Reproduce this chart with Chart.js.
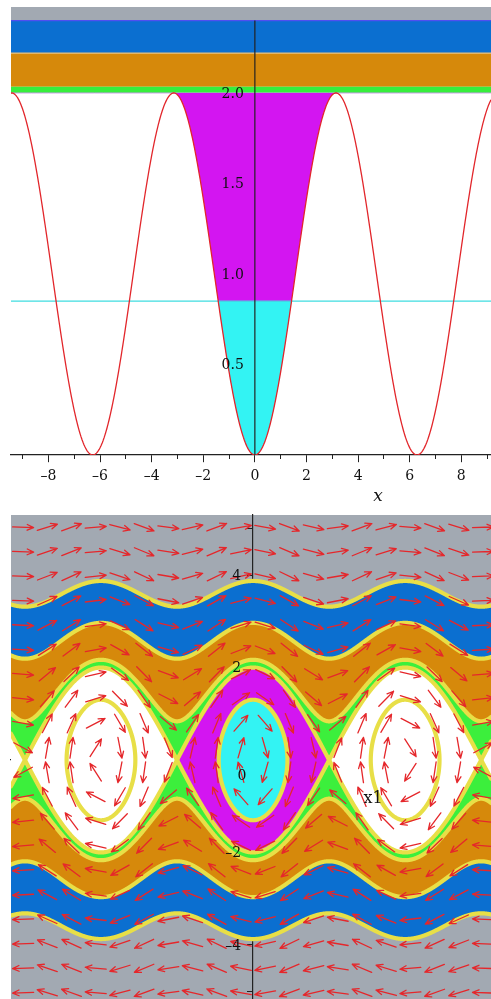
<!DOCTYPE html>
<html>
<head>
<meta charset="utf-8">
<script src="https://cdn.jsdelivr.net/npm/chart.js@4.4.1/dist/chart.umd.min.js"></script>
<style>
  html, body { margin: 0; padding: 0; background: #fff; }
  canvas { display: block; }
</style>
</head>
<body>
<canvas id="well" width="491" height="510"></canvas>
<canvas id="phase" width="491" height="489"></canvas>
<script>
// pendulum: U(x) = 1 - cos x, energy E = v^2/2 + U(x)
const potential = x => 1 - Math.cos(x);
const speed = (E, x) => Math.sqrt(Math.max(0, 2 * (E - potential(x))));

// upper plot: potential well with horizontal energy bands
const bandEdges = [2.0, 2.035, 2.22, 2.4, 2.475];
const bandColors = ['#37ee3d', '#d6890b', '#0b6fd0', '#a2a9b2'];
const bandLines = ['transparent', '#e8c07a', '#4f4ff0', 'transparent'];
const lowLevel = 0.85;
const wellYLabels = [0.5, 1.0, 1.5, 2.0];
const wellXLabels = [-8, -6, -4, -2, 0, 2, 4, 6, 8];

// phase plane: energy levels and the colour of each band below them
const levels = [0.85, 2.0, 2.35, 4.4, 7.5];
const levelColors = ['#33f3f3', '#d315f1', '#3cef3c', '#d6890b', '#0b6fd0'];
const skyColor = '#a2a9b2';
const phaseXLabels = [-8, -6, -4, -2, 2, 4, 6, 8];
const phaseYLabels = [-4, -2, 2, 4];

// sample points of the direction field
const fieldCols = [-9.5, -8.5, -7.5, -6.5, -5.5, -4.5, -3.5, -2.5, -1.5, -0.5,
                   0.5, 1.5, 2.5, 3.5, 4.5, 5.5, 6.5, 7.5, 8.5, 9.5];
const fieldRows = [-5.035, -4.505, -3.975, -3.445, -2.915, -2.385, -1.855, -1.325, -0.795, -0.265,
                   0.265, 0.795, 1.325, 1.855, 2.385, 2.915, 3.445, 3.975, 4.505, 5.035];

Chart.defaults.font.family = '"DejaVu Serif", serif';
Chart.defaults.font.size = 14;
Chart.defaults.color = '#111';

const dash = v => (v < 0 ? '\u2013' + Math.abs(v) : String(v));

function curve(a, b, n, f) {
  const pts = [];
  for (let i = 0; i <= n; i++) {
    const x = a + (b - a) * i / n;
    pts.push({ x: x, y: f(x) });
  }
  return pts;
}

// one half of a closed level (E < 2) around the bottom of the well at c
function wellArc(E, c, sign) {
  const w = Math.acos(1 - E);
  const pts = [];
  for (let i = 0; i <= 180; i++) {
    const x = c + w * Math.sin(-Math.PI / 2 + Math.PI * i / 180);
    pts.push({ x: x, y: sign * speed(E, x) });
  }
  return pts;
}

const mirror = pts => pts.map(p => ({ x: p.x, y: -p.y }));

const noEdgePad = s => { s.paddingLeft = 0; s.paddingRight = 0; s.paddingTop = 0; s.paddingBottom = 0; };
const intTicks = (a, b, step) => s => {
  s.ticks = [];
  for (let v = a; v <= b; v += step) s.ticks.push({ value: v });
};

/* ---------- upper plot ---------- */
const wxA = -9.45, wxB = 9.15;
const wW = Math.acos(1 - lowLevel);

const wellDatasets = [
  { data: curve(wxA, wxB, 500, potential), borderColor: '#e2262b', borderWidth: 1.3, fill: false },
  { data: [{ x: wxA, y: lowLevel }, { x: wxB, y: lowLevel }], borderColor: '#3fdde0', borderWidth: 1.3, fill: false },
  { data: curve(-wW, wW, 200, potential), fill: { value: lowLevel }, backgroundColor: levelColors[0],
    borderColor: 'transparent', borderWidth: 0 },
  { data: curve(-Math.PI, Math.PI, 300, potential), fill: { value: 2 }, backgroundColor: levelColors[1],
    borderColor: 'transparent', borderWidth: 0 },
  { data: [{ x: wxA, y: 2 }, { x: wxB, y: 2 }], borderColor: '#c99cea', borderWidth: 1, fill: false }
];
bandColors.forEach((c, i) => {
  wellDatasets.push({
    data: [{ x: wxA, y: bandEdges[i + 1] }, { x: wxB, y: bandEdges[i + 1] }],
    fill: { value: bandEdges[i] }, backgroundColor: c,
    borderColor: bandLines[i], borderWidth: bandLines[i] === 'transparent' ? 0 : 1.4
  });
});

new Chart(document.getElementById('well'), {
  type: 'line',
  data: { datasets: wellDatasets },
  options: {
    responsive: false,
    animation: false,
    layout: { padding: { left: 11, right: 0, top: 7, bottom: 55 } },
    elements: { point: { radius: 0 }, line: { tension: 0.0001 } },
    plugins: { legend: { display: false }, tooltip: { enabled: false } },
    scales: {
      x: {
        type: 'linear', min: wxA, max: wxB, position: { y: 0 }, z: 1,
        grid: { drawOnChartArea: false, tickLength: 7, color: '#222' },
        border: { color: '#222', width: 1.2 },
        afterBuildTicks: intTicks(-8, 8, 2),
        afterFit: noEdgePad,
        ticks: { padding: 6, maxRotation: 0, autoSkip: false,
                 callback: v => (wellXLabels.includes(v) ? dash(v) : '') }
      },
      xMinor: {
        type: 'linear', axis: 'x', min: wxA, max: wxB, position: { y: 0 }, z: 1,
        grid: { drawOnChartArea: false, tickLength: 4, color: '#222' },
        border: { display: false },
        afterBuildTicks: intTicks(-9, 9, 2),
        afterFit: noEdgePad,
        ticks: { autoSkip: false, callback: () => '' }
      },
      y: {
        type: 'linear', min: 0, max: bandEdges[4], position: { x: 0 }, z: 1,
        grid: { drawOnChartArea: false, tickLength: 5, color: '#222' },
        border: { display: false },
        afterBuildTicks: s => { s.ticks = []; for (let k = 1; k <= 24; k++) s.ticks.push({ value: k / 10 }); },
        afterFit: noEdgePad,
        ticks: { autoSkip: false, callback: () => '' }
      }
    }
  },
  plugins: [{
    id: 'wellAxis',
    afterDraw(chart) {
      const { ctx, scales: { x, y } } = chart;
      const x0 = x.getPixelForValue(0);
      ctx.save();
      ctx.strokeStyle = '#222';
      ctx.lineWidth = 1.2;
      ctx.beginPath();
      ctx.moveTo(x0, y.getPixelForValue(bandEdges[3]));
      ctx.lineTo(x0, y.getPixelForValue(0));
      ctx.stroke();
      ctx.fillStyle = '#111';
      ctx.font = '14px "DejaVu Serif"';
      ctx.textAlign = 'right';
      ctx.textBaseline = 'middle';
      wellYLabels.forEach(v => ctx.fillText(v.toFixed(1), x0 - 11, y.getPixelForValue(v) + 1));
      ctx.font = 'italic 17px "DejaVu Serif"';
      ctx.textAlign = 'center';
      ctx.fillText('x', x.getPixelForValue(4.77), 497);
      ctx.restore();
    }
  }]
});

/* ---------- phase plane ---------- */
const pxA = -10, pxB = 9.83;
const centres = [-2 * Math.PI, 0, 2 * Math.PI];

const fillSet = (data, color) => ({ data: data, fill: 'origin', backgroundColor: color,
  borderColor: 'transparent', borderWidth: 0 });
const lineSet = data => ({ data: data, fill: false, borderColor: '#e8df47', borderWidth: 4.2,
  borderJoinStyle: 'round', borderCapStyle: 'round' });

const phaseDatasets = [];

// yellow level curves
centres.forEach(c => {
  const up = wellArc(levels[0], c, 1);
  phaseDatasets.push(lineSet(up.concat(mirror(up).reverse())));
});
levels.slice(1).forEach(E => {
  const up = curve(pxA, pxB, 1000, x => speed(E, x));
  phaseDatasets.push(lineSet(up), lineSet(mirror(up)));
});

// filled bands, innermost first
const cyanUp = wellArc(levels[0], 0, 1);
phaseDatasets.push(fillSet(cyanUp, levelColors[0]), fillSet(mirror(cyanUp), levelColors[0]));
const sepMid = curve(-Math.PI, Math.PI, 400, x => speed(levels[1], x));
phaseDatasets.push(fillSet(sepMid, levelColors[1]), fillSet(mirror(sepMid), levelColors[1]));
const sepAll = curve(pxA, pxB, 1000, x => speed(levels[1], x));
phaseDatasets.push(fillSet(sepAll, '#ffffff'), fillSet(mirror(sepAll), '#ffffff'));
[2, 3, 4].forEach(i => {
  const up = curve(pxA, pxB, 1000, x => speed(levels[i], x));
  phaseDatasets.push(fillSet(up, levelColors[i]), fillSet(mirror(up), levelColors[i]));
});

new Chart(document.getElementById('phase'), {
  type: 'line',
  data: { datasets: phaseDatasets },
  options: {
    responsive: false,
    animation: false,
    layout: { padding: { left: 11, right: 0, top: 5, bottom: 0 } },
    elements: { point: { radius: 0 }, line: { tension: 0.0001 } },
    plugins: {
      legend: { display: false },
      tooltip: { enabled: false },
      filler: { drawTime: 'beforeDatasetsDraw' }
    },
    scales: {
      x: {
        type: 'linear', min: pxA, max: pxB, position: { y: 0 }, z: 1,
        grid: { drawOnChartArea: false, tickLength: 5, color: '#222' },
        border: { color: '#222', width: 1.2 },
        afterBuildTicks: intTicks(-10, 9, 1),
        afterFit: noEdgePad,
        ticks: { padding: 6, maxRotation: 0, autoSkip: false,
                 callback: v => (phaseXLabels.includes(v) ? dash(v) : '') }
      },
      y: {
        type: 'linear', min: -5.17, max: 5.3, position: { x: 0 }, z: 1,
        grid: { drawOnChartArea: false, tickLength: 5, color: '#222' },
        border: { color: '#222', width: 1.2 },
        afterBuildTicks: intTicks(-5, 5, 1),
        afterFit: noEdgePad,
        ticks: { autoSkip: false, callback: () => '' }
      }
    }
  },
  plugins: [{
    id: 'phaseBackground',
    beforeDraw(chart) {
      const { ctx, chartArea: a } = chart;
      ctx.save();
      ctx.fillStyle = skyColor;
      ctx.fillRect(a.left, a.top, a.right - a.left, a.bottom - a.top);
      ctx.restore();
    }
  }, {
    id: 'directionField',
    afterDatasetsDraw(chart) {
      const { ctx, chartArea: a, scales: { x, y } } = chart;
      const kx = x.getPixelForValue(1) - x.getPixelForValue(0);
      const ky = y.getPixelForValue(0) - y.getPixelForValue(1);
      const len = 21, head = 7, ang = 0.42;
      ctx.save();
      ctx.beginPath();
      ctx.rect(a.left, a.top, a.right - a.left, a.bottom - a.top);
      ctx.clip();
      ctx.strokeStyle = '#e5272b';
      ctx.lineWidth = 1.3;
      ctx.lineCap = 'round';
      ctx.beginPath();
      fieldRows.forEach(q => {
        fieldCols.forEach(p => {
          // x' = v, v' = -sin x, shown in screen space
          const dx = q * kx, dy = Math.sin(p) * ky;
          const m = Math.hypot(dx, dy);
          const ux = dx / m, uy = dy / m;
          const cx = x.getPixelForValue(p), cy = y.getPixelForValue(q);
          const hx = cx + ux * len / 2, hy = cy + uy * len / 2;
          ctx.moveTo(cx - ux * len / 2, cy - uy * len / 2);
          ctx.lineTo(hx, hy);
          [ang, -ang].forEach(t => {
            ctx.moveTo(hx, hy);
            ctx.lineTo(hx + head * (-ux * Math.cos(t) + uy * Math.sin(t)),
                       hy + head * (-uy * Math.cos(t) - ux * Math.sin(t)));
          });
        });
      });
      ctx.stroke();
      ctx.restore();
    }
  }, {
    id: 'phaseLabels',
    afterDraw(chart) {
      const { ctx, scales: { x, y } } = chart;
      const x0 = x.getPixelForValue(0), y0 = y.getPixelForValue(0);
      ctx.save();
      ctx.fillStyle = '#111';
      ctx.font = '14px "DejaVu Serif"';
      ctx.textAlign = 'right';
      ctx.textBaseline = 'middle';
      phaseYLabels.forEach(v => ctx.fillText(dash(v), x0 - 12, y.getPixelForValue(v) + 1));
      ctx.textAlign = 'center';
      ctx.fillText('0', x0 - 11, y0 + 16);
      ctx.font = '16px "DejaVu Serif"';
      ctx.fillText('x1', x.getPixelForValue(4.96), y0 + 39);
      ctx.restore();
    }
  }]
});
</script>
</body>
</html>
